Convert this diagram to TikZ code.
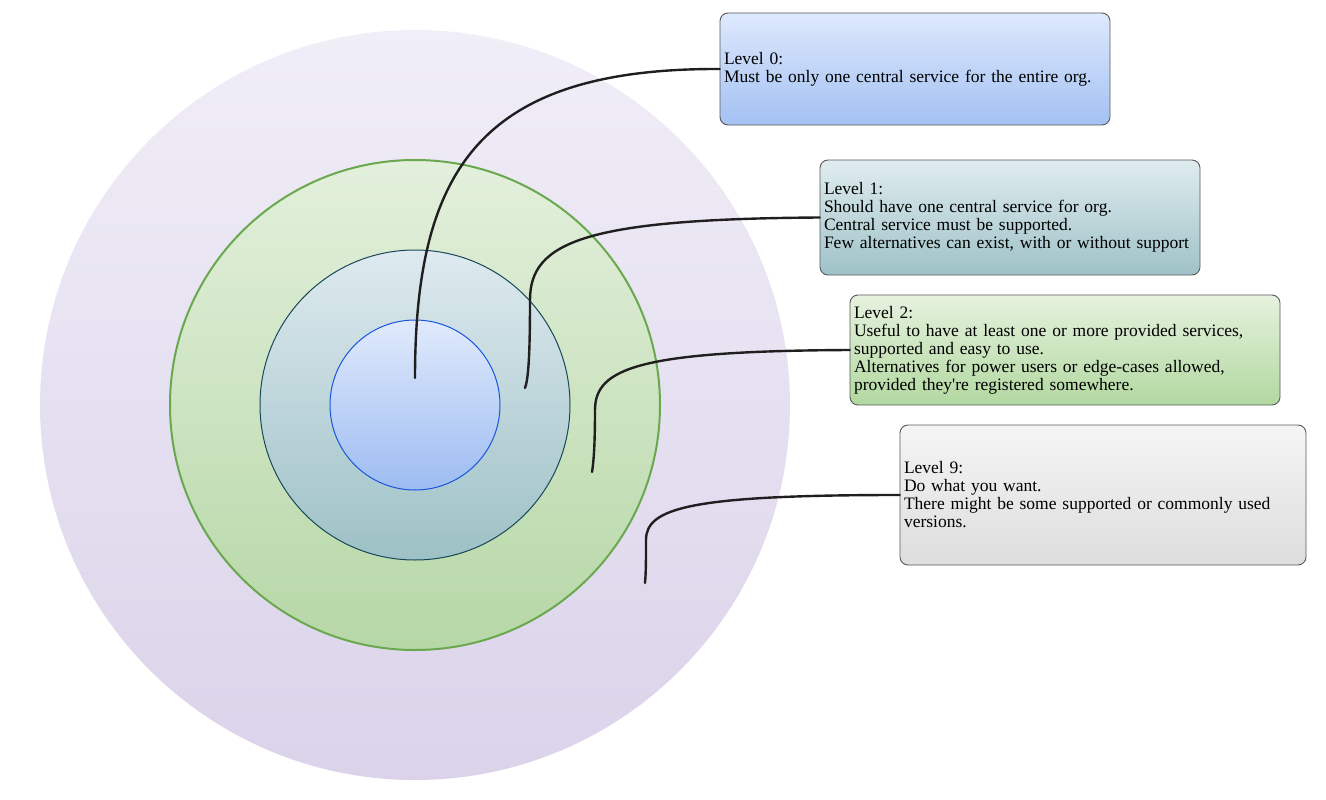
\documentclass[tikz,border=0pt]{standalone}
\usepackage{fontspec}
\setmainfont{Liberation Serif}[Ligatures=TeXOff]
\begin{document}
\begin{tikzpicture}[x=1pt,y=-1pt,
  ring/.style={circle, inner sep=0pt},
  infobox/.style={rectangle, rounded corners=8pt, draw=black!65, line width=0.9pt,
    inner xsep=4pt, inner ysep=0pt, align=left, font=\fontsize{17.5pt}{18pt}\selectfont},
  link/.style={draw=black!88, line width=2.4pt, line cap=round}
]
\useasboundingbox (0,0) rectangle (1326,800);
% rings
\node[ring, minimum size=750pt, top color={rgb,255:red,240;green,238;blue,247}, bottom color={rgb,255:red,219;green,211;blue,234}] (c9) at (415,405) {};
\node[ring, minimum size=490pt, draw={rgb,255:red,106;green,168;blue,79}, line width=2pt, top color={rgb,255:red,227;green,240;blue,220}, bottom color={rgb,255:red,182;green,215;blue,166}] (c2) at (415,405) {};
\node[ring, minimum size=310pt, draw={rgb,255:red,24;green,72;blue,88}, line width=1pt, top color={rgb,255:red,222;green,234;blue,239}, bottom color={rgb,255:red,157;green,193;blue,198}] (c1) at (415,405) {};
\node[ring, minimum size=170pt, draw={rgb,255:red,26;green,86;blue,219}, line width=1pt, top color={rgb,255:red,224;green,234;blue,252}, bottom color={rgb,255:red,157;green,188;blue,242}] (c0) at (415,405) {};
% boxes
\node[infobox, text width=382pt, minimum height=112pt, top color={rgb,255:red,222;green,233;blue,252}, bottom color={rgb,255:red,163;green,193;blue,243}] (b0) at (915,69) {Level 0:\\Must be only one central service for the entire org.};
\node[infobox, text width=372pt, minimum height=115pt, top color={rgb,255:red,224;green,236;blue,239}, bottom color={rgb,255:red,158;green,194;blue,199}] (b1) at (1010,217.5) {Level 1:\\Should have one central service for org.\\Central service must be supported.\\Few alternatives can exist, with or without support};
\node[infobox, text width=422pt, minimum height=110pt, top color={rgb,255:red,230;green,242;blue,222}, bottom color={rgb,255:red,178;green,216;blue,160}] (b2) at (1065,350) {Level 2:\\Useful to have at least one or more provided services,\\supported and easy to use.\\Alternatives for power users or edge-cases allowed,\\provided they're registered somewhere.};
\node[infobox, text width=398pt, minimum height=140pt, top color={rgb,255:red,245;green,245;blue,245}, bottom color={rgb,255:red,221;green,221;blue,221}] (b9) at (1103,495) {Level 9:\\Do what you want.\\There might be some supported or commonly used\\versions.};
% free ends
\coordinate (e0) at (415,378);
\coordinate (e1) at (525,388);
\coordinate (e2) at (592,472);
\coordinate (e3) at (645,583);
% connectors
\draw[link] (b0.west) .. controls (480,68) and (415,170) .. (e0);
\draw[link] (b1.west) .. controls (585,219) and (530,242) .. (530,300) .. controls (530,360) and (528,380) .. (e1);
\draw[link] (b2.west) .. controls (640,351) and (595,368) .. (595,410) .. controls (595,440) and (594,460) .. (e2);
\draw[link] (b9.west) .. controls (690,495) and (646,508) .. (646,540) .. controls (646,560) and (646,572) .. (e3);
\end{tikzpicture}
\end{document}
